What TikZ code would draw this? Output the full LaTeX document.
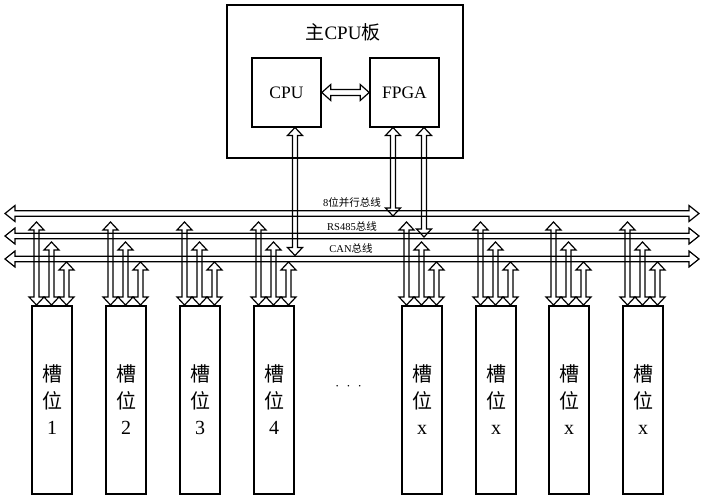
\documentclass[tikz,border=0pt]{standalone}
\usepackage{fontspec}
\setmainfont{Liberation Serif}
\newfontfamily\cjk{Noto Sans CJK SC}
\usetikzlibrary{calc}
\tikzset{
  headlen/.store in=\ahl, headhalf/.store in=\ahw, shafthalf/.store in=\asw,
  headlen=8pt, headhalf=7.5pt, shafthalf=2.5pt,
  hollow/.style={line width=1.2pt, line join=miter, to path={
    -- ($(\tikztostart)!\ahl!(\tikztotarget)!\ahw!90:(\tikztotarget)$)
    -- ($(\tikztostart)!\ahl!(\tikztotarget)!\asw!90:(\tikztotarget)$)
    -- ($(\tikztotarget)!\ahl!(\tikztostart)!\asw!-90:(\tikztostart)$)
    -- ($(\tikztotarget)!\ahl!(\tikztostart)!\ahw!-90:(\tikztostart)$)
    -- (\tikztotarget)
    -- ($(\tikztotarget)!\ahl!(\tikztostart)!\ahw!90:(\tikztostart)$)
    -- ($(\tikztotarget)!\ahl!(\tikztostart)!\asw!90:(\tikztostart)$)
    -- ($(\tikztostart)!\ahl!(\tikztotarget)!\asw!-90:(\tikztotarget)$)
    -- ($(\tikztostart)!\ahl!(\tikztotarget)!\ahw!-90:(\tikztotarget)$)
    -- cycle}},
  busarrow/.style={hollow, headlen=10pt, headhalf=8pt, shafthalf=2.8pt},
  box/.style={draw, line width=1.6pt, inner sep=0pt},
  chip/.style={box, minimum width=69pt, minimum height=69pt, font=\fontsize{17.5}{20}\selectfont},
  slot/.style={box, minimum width=40pt, minimum height=188pt, align=center,
    font=\fontsize{20}{26.5}\selectfont},
  buslabel/.style={font=\fontsize{10.5}{12}\selectfont, inner sep=0pt}
}
\begin{document}
\begin{tikzpicture}[x=1pt, y=-1pt]
\useasboundingbox (0,0) rectangle (704,500);

% main board
\node[box, minimum width=236pt, minimum height=153pt] (main) at (345,81.5) {};
\node[font=\fontsize{19}{22}\selectfont] (title) at (343,32) {{\cjk 主}CPU{\cjk 板}};
\node[chip] (cpu) at (286.5,92.5) {CPU};
\node[chip] (fpga) at (404.5,92.5) {FPGA};
\draw[hollow, headlen=9pt, headhalf=8pt, shafthalf=3pt] (cpu.east) to (fpga.west);

% buses
\coordinate (b1l) at (5,213.5);  \coordinate (b1r) at (699,213.5);
\coordinate (b2l) at (5,236);    \coordinate (b2r) at (699,236);
\coordinate (b3l) at (5,259);    \coordinate (b3r) at (699,259);
\draw[busarrow] (b1l) to (b1r);
\draw[busarrow] (b2l) to (b2r);
\draw[busarrow] (b3l) to (b3r);
\node[buslabel] (l1) at (352,203) {8{\cjk 位并行总线}};
\node[buslabel] (l2) at (352,226.5) {RS485{\cjk 总线}};
\node[buslabel] (l3) at (351,248.5) {CAN{\cjk 总线}};

% CPU / FPGA to buses
\coordinate (cpuA) at (295,127.5);  \coordinate (cpuB) at (295,255.5);
\coordinate (fpA1) at (393,127.5);  \coordinate (fpB1) at (393,216);
\coordinate (fpA2) at (424,127.5);  \coordinate (fpB2) at (424,237);
\draw[hollow] (cpuA) to (cpuB);
\draw[hollow] (fpA1) to (fpB1);
\draw[hollow] (fpA2) to (fpB2);

% slots
\foreach \i/\x/\lab in {1/32/1,2/106/2,3/180/3,4/254/4,5/402/x,6/476/x,7/549/x,8/623/x}{
  \node[slot] (s\i) at (\x+20,400) {{\cjk 槽}\\{\cjk 位}\\\lab};
  \foreach \k/\dx/\ty in {1/4.5/222,2/19.5/242,3/34.5/262}{
    \coordinate (s\i b\k) at (\x+\dx,305);
    \coordinate (s\i t\k) at (\x+\dx,\ty);
    \draw[hollow] (s\i b\k) to (s\i t\k);
  }
}
\node[font=\fontsize{13}{14}\selectfont] (dots) at (348.5,388) {·\hspace{7pt}·\hspace{7pt}·};
\end{tikzpicture}
\end{document}
